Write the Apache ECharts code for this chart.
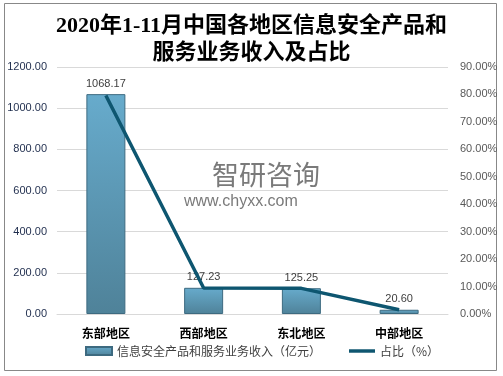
<!DOCTYPE html>
<html>
<head>
<meta charset="utf-8">
<script src="https://cdn.jsdelivr.net/npm/echarts@6/dist/echarts.min.js"></script>
<style>
  html, body { margin: 0; padding: 0; background: #fff; }
  #main { width: 503px; height: 376px; }
</style>
</head>
<body>
<div id="main"></div>
<script>
const regions = ['东部地区', '西部地区', '东北地区', '中部地区'];
const revenue = [1068.17, 127.23, 125.25, 20.60];
const share = [79.64, 9.49, 9.34, 1.54];

const myChart = echarts.init(document.getElementById('main'));
const option = {
  backgroundColor: '#fff',
  title: {
    text: '2020年1-11月中国各地区信息安全产品和\n服务业务收入及占比',
    left: 'center',
    top: 8,
    textStyle: {
      fontFamily: '"Liberation Serif", "Noto Sans CJK SC", serif',
      fontSize: 22,
      fontWeight: 'bold',
      color: '#000',
      lineHeight: 27
    }
  },
  graphic: [
    {
      type: 'rect',
      shape: { x: 4.5, y: 3.5, width: 492, height: 367 },
      style: { fill: 'none', stroke: '#888', lineWidth: 1 },
      silent: true
    },
    {
      type: 'text',
      left: 212,
      top: 161,
      style: { text: '智研咨询', fontSize: 27, fill: '#7a7a7a', fontFamily: '"Noto Sans CJK SC"' },
      silent: true
    },
    {
      type: 'text',
      left: 184,
      top: 194,
      style: { text: 'www.chyxx.com', fontSize: 16, fill: '#7a7a7a', fontFamily: '"Liberation Sans", Arial' },
      silent: true
    }
  ],
  grid: { left: 57, right: 55, top: 67, bottom: 62 },
  legend: {
    bottom: 14,
    left: 80,
    itemGap: 28,
    itemWidth: 26,
    itemHeight: 8,
    textStyle: { fontSize: 12, color: '#404040', fontFamily: '"Noto Sans CJK SC"' },
    data: [
      { name: '信息安全产品和服务业务收入（亿元）', icon: 'rect' },
      { name: '占比（%）', icon: 'path://M0 0H30V4H0Z' }
    ]
  },
  xAxis: {
    type: 'category',
    data: regions,
    axisLine: { lineStyle: { color: '#d9d9d9' } },
    axisTick: { show: false },
    axisLabel: { color: '#000', fontWeight: 'bold', fontSize: 12, margin: 13, fontFamily: '"Noto Sans CJK SC"' }
  },
  yAxis: [
    {
      type: 'value',
      min: 0,
      max: 1200,
      interval: 200,
      axisLine: { show: false },
      axisTick: { show: false },
      splitLine: { lineStyle: { color: '#d9d9d9' } },
      axisLabel: {
        color: '#1f2d4d',
        fontSize: 11,
        margin: 10,
        fontFamily: '"Liberation Sans", sans-serif',
        formatter: (v) => v.toFixed(2)
      }
    },
    {
      type: 'value',
      min: 0,
      max: 90,
      interval: 10,
      axisLine: { show: false },
      axisTick: { show: false },
      splitLine: { show: false },
      axisLabel: {
        color: '#595959',
        fontSize: 11,
        margin: 12,
        fontFamily: '"Liberation Sans", sans-serif',
        formatter: (v) => v.toFixed(2) + '%'
      }
    }
  ],
  series: [
    {
      name: '信息安全产品和服务业务收入（亿元）',
      type: 'bar',
      data: revenue,
      barWidth: 39,
      itemStyle: {
        color: new echarts.graphic.LinearGradient(0, 0, 0, 1, [
          { offset: 0, color: '#67abcc' },
          { offset: 1, color: '#4f8299' }
        ]),
        borderColor: '#3d6a80',
        borderWidth: 1
      },
      label: {
        show: true,
        position: 'top',
        color: '#404040',
        fontSize: 11,
        formatter: (p) => p.value.toFixed(2)
      }
    },
    {
      name: '占比（%）',
      type: 'line',
      yAxisIndex: 1,
      data: share,
      symbol: 'none',
      lineStyle: { color: '#0e5670', width: 3.5 },
      itemStyle: { color: '#0e5670' }
    }
  ]
};
myChart.setOption(option);
</script>
</body>
</html>
